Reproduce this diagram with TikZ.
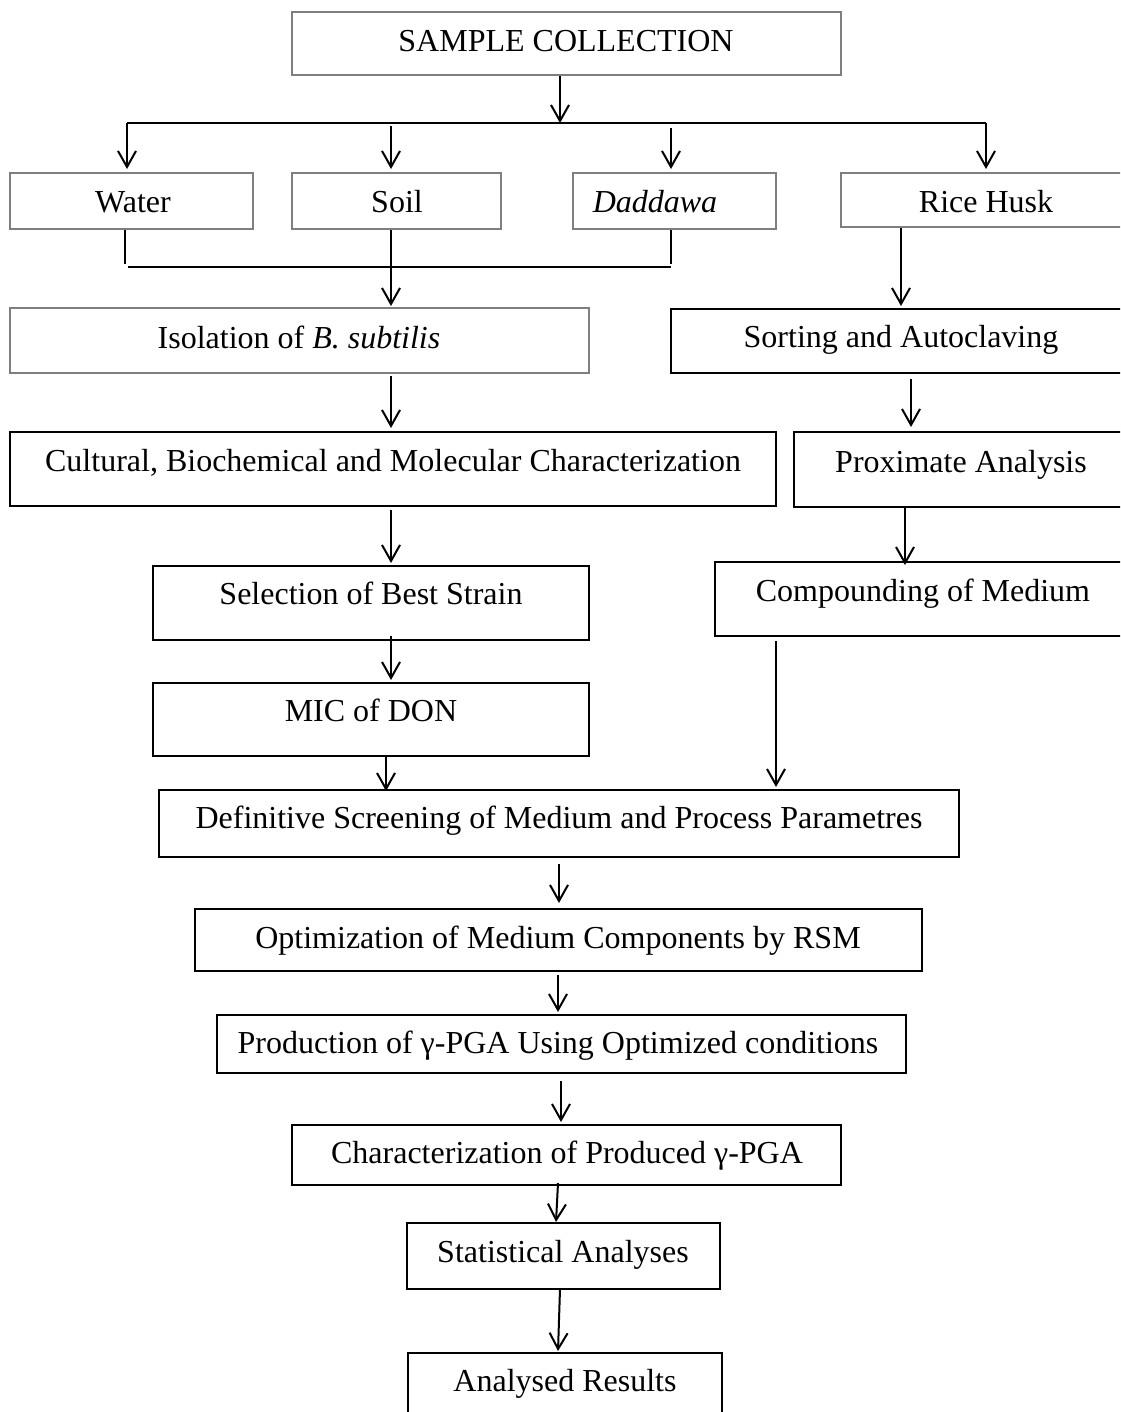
\documentclass[tikz,border=0pt]{standalone}
\usepackage{fontspec}
\setmainfont{Liberation Serif}
\usetikzlibrary{arrows.meta,fit}
\definecolor{boxgray}{HTML}{7F7F7F}
\tikzset{
  boxg/.style={draw=boxgray, line width=2pt, inner sep=0pt, rectangle},
  boxk/.style={draw=black, line width=2pt, inner sep=0pt, rectangle},
  txt/.style={anchor=base, inner sep=0pt, font=\fontsize{32}{38}\selectfont},
  conn/.style={line width=2pt, draw=black},
  thinconn/.style={line width=1.5pt, draw=black},
  arr/.style={conn, -{Straight Barb[length=16pt,width=18pt,line width=2pt]}},
}
\begin{document}
\begin{tikzpicture}[x=1pt,y=-1pt]
\clip (0,0) rectangle (1120,1412);
\fill[white] (0,0) rectangle (1120,1412);
% boxes
\node[boxg, fit={(292,12) (841,75)}] (sample) {};
\node[boxg, fit={(10,173) (253,229)}] (water) {};
\node[boxg, fit={(292,173) (501,229)}] (soil) {};
\node[boxg, fit={(573,173) (776,229)}] (dadd) {};
\node[boxg, fit={(841,173) (1130,227)}] (rice) {};
\node[boxg, fit={(10,308) (589,373)}] (iso) {};
\node[boxk, fit={(671,309) (1130,373)}] (sort) {};
\node[boxk, fit={(10,432) (776,506)}] (cult) {};
\node[boxk, fit={(794,432) (1130,507)}] (prox) {};
\node[boxk, fit={(153,566) (589,640)}] (sel) {};
\node[boxk, fit={(715,562) (1130,636)}] (comp) {};
\node[boxk, fit={(153,683) (589,756)}] (mic) {};
\node[boxk, fit={(159,790) (959,857)}] (def) {};
\node[boxk, fit={(195,909) (922,971)}] (opt) {};
\node[boxk, fit={(217,1015) (906,1073)}] (prod) {};
\node[boxk, fit={(292,1125) (841,1185)}] (charz) {};
\node[boxk, fit={(407,1223) (720,1289)}] (stat) {};
\node[boxk, fit={(408,1353) (722,1440)}] (res) {};
% texts
\node[txt] (tsample) at (566,52) {SAMPLE COLLECTION};
\node[txt] (twater) at (133,213) {Water};
\node[txt] (tsoil) at (397,213) {Soil};
\node[txt] (tdadd) at (655,213) {\itshape Daddawa};
\node[txt] (trice) at (986,213) {Rice Husk};
\node[txt] (tiso) at (299,348) {Isolation of \textit{B. subtilis}};
\node[txt] (tsort) at (901,347) {Sorting and Autoclaving};
\node[txt] (tcult) at (393,471) {Cultural, Biochemical and Molecular Characterization};
\node[txt] (tprox) at (961,472) {Proximate Analysis};
\node[txt] (tsel) at (371,604) {Selection of Best Strain};
\node[txt] (tcomp) at (923,601) {Compounding of Medium};
\node[txt] (tmic) at (371,721) {MIC of DON};
\node[txt] (tdef) at (559,828) {Definitive Screening of Medium and Process Parametres};
\node[txt] (topt) at (558,948) {Optimization of Medium Components by RSM};
\node[txt] (tprod) at (558,1053) {Production of γ-PGA Using Optimized conditions};
\node[txt] (tcharz) at (567,1163) {Characterization of Produced γ-PGA};
\node[txt] (tstat) at (563,1262) {Statistical Analyses};
\node[txt] (tres) at (565,1391) {Analysed Results};
% junction coordinates
\coordinate (busC) at (560,123);
\coordinate (busL) at (127,123);
\coordinate (busR) at (986,123);
\coordinate (dSoil) at (391,126);
\coordinate (dDadd) at (671,128);
\coordinate (mL) at (125,264);
\coordinate (mR) at (671,264);
\coordinate (hL) at (128,267);
\coordinate (hR) at (671,267);
\coordinate (xSoil) at (391,0);
\coordinate (xRice) at (901,0);
\coordinate (xIso) at (391,0);
\coordinate (xSort) at (911,0);
\coordinate (xProx) at (905,0);
\coordinate (xMic) at (386,0);
\coordinate (xComp) at (776,0);
\coordinate (xDef) at (559,0);
\coordinate (xOpt) at (558,0);
\coordinate (xProd) at (561,0);
\coordinate (cs1) at (558,1183);
\coordinate (cs2) at (556,1222);
\coordinate (sr1) at (560,1289);
\coordinate (sr2) at (558,1351);
% connectors
\draw[arr] (sample.south -| busC) -- (busC);
\draw[conn] (busL) -- (busR);
\draw[arr] (busL) -- ([yshift=3pt]water.north -| busL);
\draw[arr] (dSoil) -- ([yshift=3pt]soil.north -| dSoil);
\draw[arr] (dDadd) -- ([yshift=3pt]dadd.north -| dDadd);
\draw[arr] (busR) -- ([yshift=3pt]rice.north -| busR);
\draw[thinconn] (water.south -| mL) -- (mL);
\draw[thinconn] (dadd.south -| mR) -- (mR);
\draw[conn] (hL) -- (hR);
\draw[arr] (soil.south -| xSoil) -- ([yshift=1pt]iso.north -| xSoil);
\draw[arr] (rice.south -| xRice) -- ([yshift=2pt]sort.north -| xRice);
\draw[arr] ([yshift=-2pt]iso.south -| xIso) -- ([yshift=3pt]cult.north -| xIso);
\draw[arr] ([yshift=-5pt]sort.south -| xSort) -- ([yshift=4pt]cult.north -| xSort);
\draw[arr] ([yshift=-3pt]cult.south -| xIso) -- ([yshift=2pt]sel.north -| xIso);
\draw[arr] (prox.south -| xProx) -- ([yshift=-4pt]comp.north -| xProx);
\draw[arr] ([yshift=5pt]sel.south -| xIso) -- ([yshift=2pt]mic.north -| xIso);
\draw[arr] (mic.south -| xMic) -- ([yshift=-2pt]def.north -| xMic);
\draw[arr] ([yshift=-4pt]comp.south -| xComp) -- ([yshift=2pt]def.north -| xComp);
\draw[arr] ([yshift=-6pt]def.south -| xDef) -- ([yshift=5pt]opt.north -| xDef);
\draw[arr] ([yshift=-3pt]opt.south -| xOpt) -- ([yshift=2pt]prod.north -| xOpt);
\draw[arr] ([yshift=-7pt]prod.south -| xProd) -- ([yshift=2pt]charz.north -| xProd);
\draw[arr] (cs1) -- (cs2);
\draw[arr] (sr1) -- (sr2);
\end{tikzpicture}
\end{document}
